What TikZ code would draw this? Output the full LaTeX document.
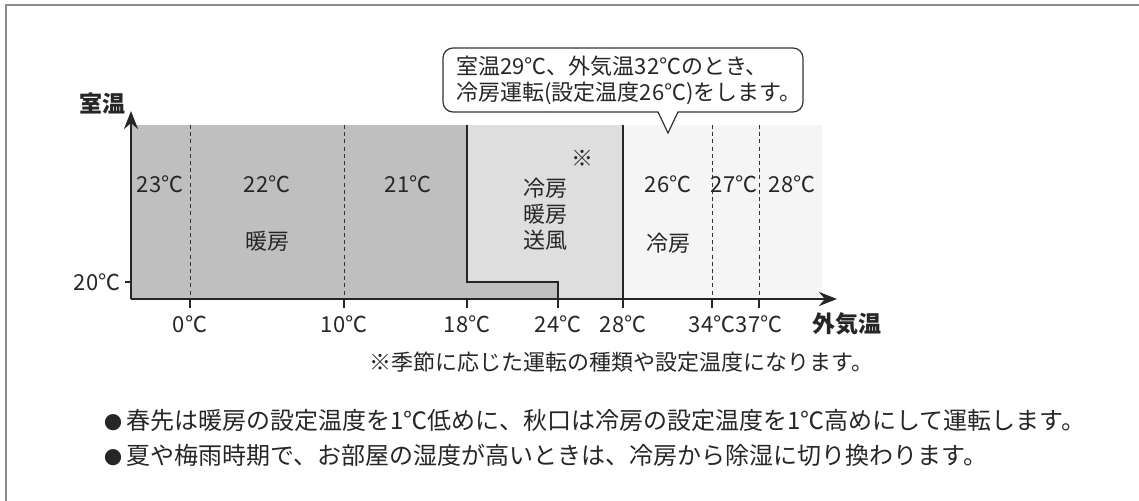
\documentclass[tikz,border=0pt]{standalone}
\usepackage{fontspec}
\setmainfont{Noto Sans CJK JP}
\usetikzlibrary{arrows.meta}

\begin{document}
\begin{tikzpicture}[
    x=0.5pt, y=-0.5pt,
    darkzone/.style={
        fill=black!25
    },
    midzone/.style={
        fill=black!13
    },
    lightzone/.style={
        fill=black!4
    },
    axis/.style={
        draw=black!85,
        line width=1.4pt,
        -{Stealth[length=9pt,width=7pt]}
    },
    divider/.style={
        draw=black!85,
        line width=0.7pt
    },
    guide/.style={
        draw=black!80,
        line width=0.45pt,
        dash pattern=on 2pt off 1.6pt
    },
    tickmark/.style={
        draw=black!85,
        line width=0.6pt
    },
    label/.style={
        font=\fontsize{11}{13}\selectfont,
        text=black!85,
        inner sep=1pt
    },
    title/.style={
        label,
        font=\fontsize{11.5}{13}\selectfont\bfseries
    },
    remark/.style={
        font=\fontsize{12}{16}\selectfont,
        text=black!85,
        inner sep=0pt
    }
]

\useasboundingbox (0,0) rectangle (1139,501);

% Rahmen
\draw[black!45, line width=1pt] (1139,5) -- (6,5) -- (6,501);

% Bereiche
\fill[lightzone] (623,125) rectangle (822,299);
\fill[midzone] (467,125) rectangle (623,299);
\fill[darkzone] (131,125) rectangle (467,299);
\fill[darkzone] (467,282) rectangle (558,299);

% Koordinaten
\coordinate (o) at (131,299);
\coordinate (ytop) at (131,111);
\coordinate (xend) at (837,299);
\coordinate (t20) at (125,282);
\coordinate (t20r) at (131,282);

% Trennlinien
\foreach \x/\n in {190/p0,344/p10,712/p34,759/p37} {
    \coordinate (\n top) at (\x,125);
    \coordinate (\n) at (\x,299);
    \draw[guide] (\n top) -- (\n);
}
\coordinate (s18) at (467,125);
\coordinate (s18b) at (467,282);
\coordinate (s24) at (558,282);
\coordinate (s24b) at (558,299);
\coordinate (s28) at (623,125);
\coordinate (s28b) at (623,299);
\draw[divider] (s18) -- (s18b) -- (s24) -- (s24b);
\draw[divider] (s28) -- (s28b);

% Achsen
\draw[axis] (o) -- (ytop);
\draw[axis] (o) -- (xend);
\draw[tickmark] (t20) -- (t20r);
\foreach \x/\n in {190/k0,344/k10,467/k18,558/k24,623/k28,712/k34,759/k37} {
    \coordinate (\n) at (\x,299);
    \coordinate (\n b) at (\x,308);
    \draw[tickmark] (\n) -- (\n b);
}

% Achsenbeschriftung
\node[title] (room) at (102,104) {室温};
\node[title] (outside) at (847,324) {外気温};
\node[label] (l20) at (97,282) {20℃};
\node[label] (x0) at (190,324) {0℃};
\node[label] (x10) at (344,324) {10℃};
\node[label] (x18) at (467,324) {18℃};
\node[label] (x24) at (558,324) {24℃};
\node[label] (x28) at (623,324) {28℃};
\node[label] (x34) at (712,324) {34℃};
\node[label] (x37) at (759,324) {37℃};

% Sollwerte
\node[label] (r23) at (160,184) {23℃};
\node[label] (r22) at (267,184) {22℃};
\node[label] (r21) at (408,184) {21℃};
\node[label] (heat) at (267,241) {暖房};
\node[label] (star) at (582,158) {※};
\node[label, align=left] (mixed) at (545,214) {冷房\\暖房\\送風};
\node[label] (r26) at (668,184) {26℃};
\node[label] (r27) at (734,184) {27℃};
\node[label] (r28) at (792,184) {28℃};
\node[label] (cool) at (668,243) {冷房};

% Sprechblase
\coordinate (tip) at (668,133);
\draw[black!80, line width=0.6pt, fill=white]
    (tip) -- (678,112) [rounded corners=5pt] -- (803,112) -- (803,48)
    -- (443,48) -- (443,112) [sharp corners] -- (658,112) -- cycle;
\node[remark, font=\fontsize{11}{13}\selectfont, anchor=west, align=left]
    (note) at (456,80)
    {室温29℃、外気温32℃のとき、\\冷房運転(設定温度26℃)をします。};

% Hinweise
\node[remark, font=\fontsize{11}{13}\selectfont, anchor=east] (foot) at (874,362)
    {※季節に応じた運転の種類や設定温度になります。};
\node[remark, anchor=west] (hint1) at (104,420)
    {{\fontsize{9}{9}\selectfont●}\,春先は暖房の設定温度を1℃低めに、秋口は冷房の設定温度を1℃高めにして運転します。};
\node[remark, anchor=west] (hint2) at (104,455)
    {{\fontsize{9}{9}\selectfont●}\,夏や梅雨時期で、お部屋の湿度が高いときは、冷房から除湿に切り換わります。};

\end{tikzpicture}
\end{document}
